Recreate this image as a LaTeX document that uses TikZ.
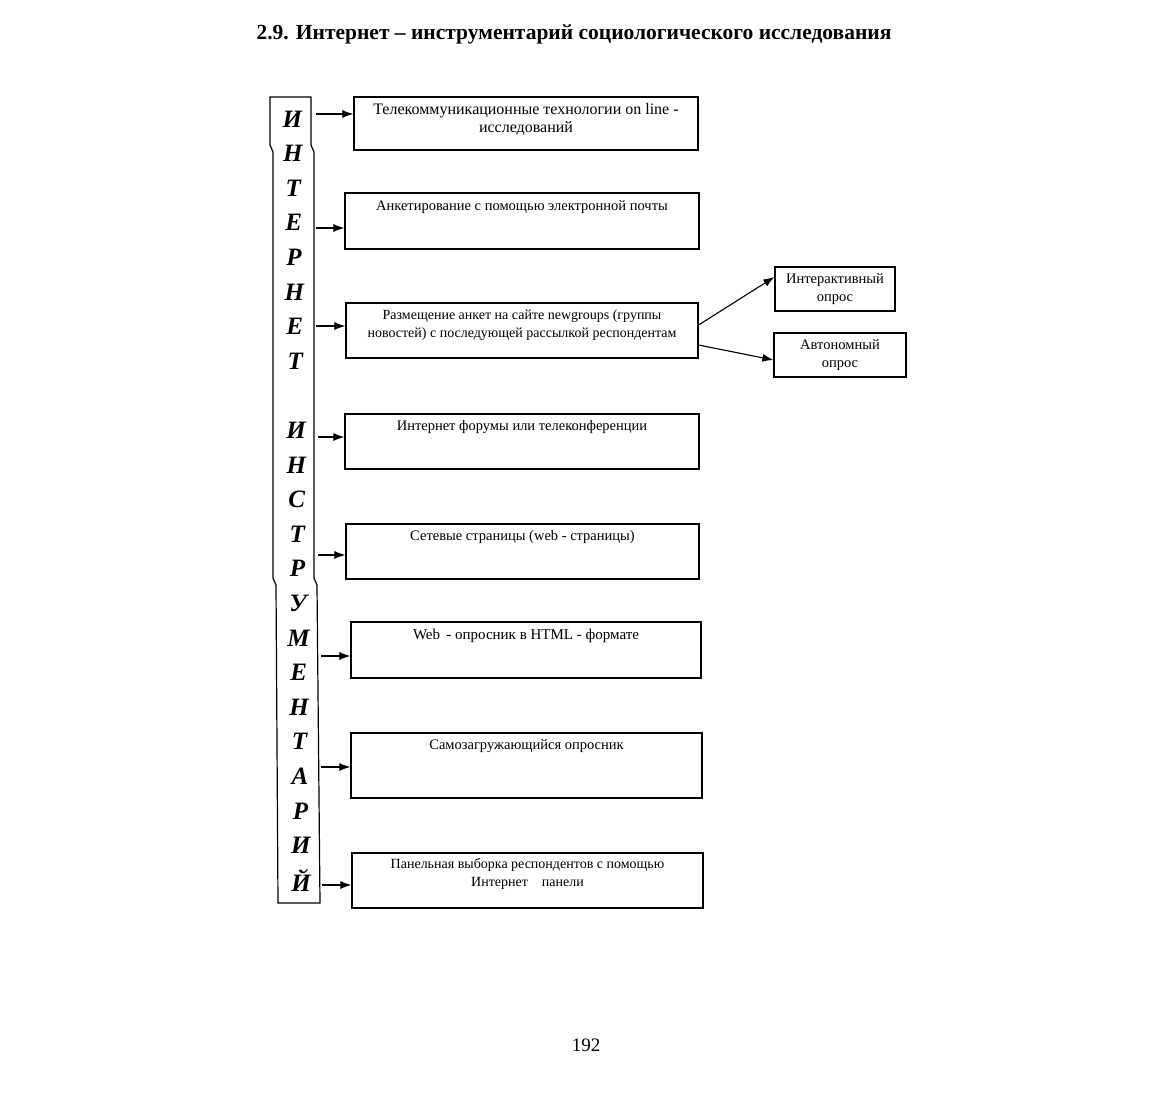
\documentclass[tikz,border=0pt]{standalone}
\usepackage{fontspec}
\setmainfont{Liberation Serif}
\usetikzlibrary{arrows.meta,positioning}
\tikzset{
  bx/.style={draw, line width=1.2pt, inner sep=0pt},
  bxtext/.style={anchor=north, align=center, inner sep=0pt, font=\fontsize{14.5}{18}\selectfont},
  pointer/.style={line width=1.1pt, -{Latex[length=11pt,width=8pt]}},
  letter/.style={inner sep=0pt, font=\fontsize{25}{27}\selectfont\bfseries\itshape},
}

\begin{document}
\begin{tikzpicture}[x=1pt, y=-1pt]
  % page
  \fill[white] (0,0) rectangle (1165,1096);
  \useasboundingbox (0,0) rectangle (1165,1096);
  % heading
  \node[inner sep=0pt, font=\fontsize{21.5}{24}\selectfont\bfseries] (title) at (574,34)
    {2.9. Интернет -- инструментарий социологического исследования};
  % left bar
  \draw[line width=1.2pt] (270,97) -- (311,97) -- (311,145) -- (314,152) -- (314,578)
    -- (317,585) -- (320,903) -- (278,903) -- (276,585) -- (273,578) -- (273,152)
    -- (270,145) -- cycle;
  \foreach \ch [count=\i] in {И,Н,Т,Е,Р,Н,Е,Т,{},И,Н,С,Т,Р,У,М,Е,Н,Т,А,Р,И,Й}
    \node[letter] (l\i) at ({292+0.4*\i},{119+34.6*(\i-1)}) {\ch};
  % boxes
  \node[bx, minimum width=344pt, minimum height=53pt] (b1) at (526,123.5) {};
  \node[bx, minimum width=354pt, minimum height=56pt] (b2) at (522,221) {};
  \node[bx, minimum width=352pt, minimum height=55pt] (b3) at (522,330.5) {};
  \node[bx, minimum width=354pt, minimum height=55pt] (b4) at (522,441.5) {};
  \node[bx, minimum width=353pt, minimum height=55pt] (b5) at (522.5,551.5) {};
  \node[bx, minimum width=350pt, minimum height=56pt] (b6) at (526,650) {};
  \node[bx, minimum width=351pt, minimum height=65pt] (b7) at (526.5,765.5) {};
  \node[bx, minimum width=351pt, minimum height=55pt] (b8) at (527.5,880.5) {};
  % box texts
  \node[bxtext, font=\fontsize{16}{18}\selectfont] (t1) at ([yshift=-7pt]b1.north) {Телекоммуникационные технологии on line -\\исследований};
  \node[bxtext] (t2) at ([yshift=-8pt]b2.north) {Анкетирование с помощью электронной почты};
  \node[bxtext, font=\fontsize{14}{18}\selectfont] (t3) at ([yshift=-7pt]b3.north) {Размещение анкет на сайте newgroups (группы\\новостей) с последующей рассылкой респондентам};
  \node[bxtext] (t4) at ([yshift=-7pt]b4.north) {Интернет форумы или телеконференции};
  \node[bxtext] (t5) at ([yshift=-7pt]b5.north) {Сетевые страницы (web - страницы)};
  \node[bxtext, font=\fontsize{15}{18}\selectfont] (t6) at ([yshift=-7pt]b6.north) {Web\, - опросник в HTML - формате};
  \node[bxtext] (t7) at ([yshift=-7pt]b7.north) {Самозагружающийся опросник};
  \node[bxtext, font=\fontsize{14}{18}\selectfont] (t8) at ([yshift=-6pt]b8.north) {Панельная выборка респондентов с помощью\\Интернет\quad панели};
  % side boxes
  \node[bx, minimum width=120pt, minimum height=44pt, align=center, font=\fontsize{14.5}{18}\selectfont] (r1) at (835,289) {Интерактивный\\опрос};
  \node[bx, minimum width=132pt, minimum height=44pt, align=center, font=\fontsize{14.5}{18}\selectfont] (r2) at (840,355) {Автономный\\опрос};
  % arrows from bar
  \coordinate (s1) at (316,114);
  \coordinate (s2) at (316,228);
  \coordinate (s3) at (316,326);
  \coordinate (s4) at (318,437);
  \coordinate (s5) at (318,555);
  \coordinate (s6) at (321,656);
  \coordinate (s7) at (321,767);
  \coordinate (s8) at (322,885);
  \foreach \i in {1,...,8}
    \draw[pointer] (s\i) -- (s\i -| b\i.west);
  % branches
  \draw[pointer] ([yshift=5.5pt]b3.east) -- ([yshift=12pt]r1.west);
  \draw[pointer] ([yshift=-14.5pt]b3.east) -- ([yshift=-5pt]r2.west);
  % page number
  \node[inner sep=0pt, font=\fontsize{19}{22}\selectfont] (pg) at (586,1045) {192};
\end{tikzpicture}
\end{document}
